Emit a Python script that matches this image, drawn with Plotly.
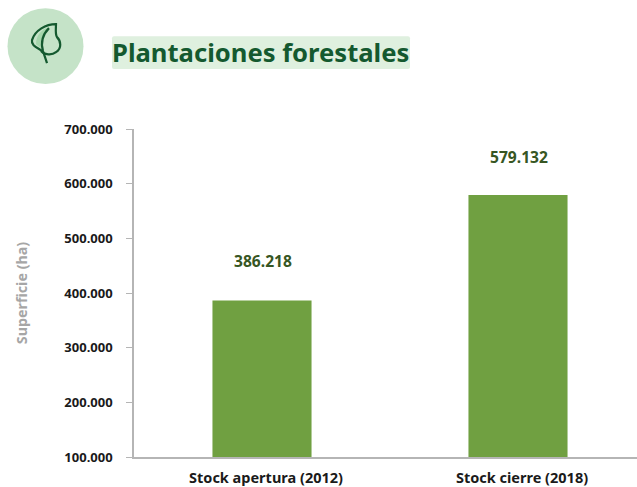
import plotly.graph_objects as go

categories = ["Stock apertura (2012)", "Stock cierre (2018)"]
values = [386218, 579132]
tick_values = [100000, 200000, 300000, 400000, 500000, 600000, 700000]
title = "Plantaciones forestales"
y_title = "Superficie (ha)"

W, H = 637, 487
L, R, T, B = 134, 0, 129, 29.5
FONT = "Noto Sans"


def px(x):
    return (x - L) / (W - L - R)


def py(y):
    return 1 - (y - T) / (H - T - B)


def path(cmds):
    out = []
    for c in cmds:
        if isinstance(c, str):
            out.append(c)
        else:
            out.append(f"{px(c[0]):.5f},{py(c[1]):.5f}")
    return " ".join(out)


fig = go.Figure(go.Bar(
    x=categories, y=values, width=0.387,
    marker=dict(color="#70A041", line=dict(width=0)),
    hoverinfo="skip", showlegend=False,
))

shapes = [
    dict(type="circle", xref="paper", yref="paper", x0=px(7.5), x1=px(83.5), y0=py(84), y1=py(8),
         fillcolor="#C5E3C8", line=dict(width=0), layer="below"),
    dict(type="path", xref="paper", yref="paper", layer="below", fillcolor="#DFF0DF", line=dict(width=0),
         path=path(["M", (114, 36), "L", (408, 36), "Q", (410, 36), (410, 38), "L", (410, 67), "Q", (410, 69), (408, 69),
                    "L", (114, 69), "Q", (112, 69), (112, 67), "L", (112, 38), "Q", (112, 36), (114, 36), "Z"])),
    dict(type="path", xref="paper", yref="paper", fillcolor="#A5D6AC", line=dict(width=0),
         path=path(["M", (49, 27), "C", (41, 29), (36, 36), (36, 44), "L", (41, 48), "C", (40, 40), (43, 33), (49, 27), "Z"])),
    dict(type="path", xref="paper", yref="paper", line=dict(color="#14592F", width=2.2),
         path=path(["M", (56, 24), "C", (46, 24), (35, 30), (32, 40), "C", (31, 45), (36, 47), (41, 50),
                    "C", (42, 54), (51, 56), (56, 52), "C", (62, 48), (61, 41), (57, 37),
                    "C", (55, 34), (56, 29), (56, 24), "Z"])),
    dict(type="path", xref="paper", yref="paper", line=dict(color="#14592F", width=2.2),
         path=path(["M", (49, 28), "C", (42, 35), (41, 44), (43, 51), "L", (47, 63)])),
]

annotations = [
    dict(x=c, y=v, xref="x", yref="y", text=f"{v:,}".replace(",", "."), showarrow=False,
         xshift=1, yshift=s, font=dict(family=FONT, size=15.6, color="#375623", weight="bold"))
    for c, v, s in zip(categories, values, [40, 38])
]
annotations.append(dict(
    x=px(111), y=py(52.5), xref="paper", yref="paper", xanchor="left", yanchor="middle", showarrow=False,
    text=title, font=dict(family=FONT, size=25.6, color="#14592F", weight="bold"), borderpad=0,
))

fig.update_layout(
    width=W, height=H, margin=dict(l=L, r=R, t=T, b=B, pad=0),
    paper_bgcolor="white", plot_bgcolor="white", separators=",.",
    shapes=shapes, annotations=annotations, showlegend=False,
    font=dict(family=FONT, size=13, color="#1A1A1A", weight="bold"),
    xaxis=dict(range=[-0.5, -0.5 + (W - L) / 256], showgrid=False, zeroline=False,
               showline=True, linecolor="#B5B5B5", linewidth=1.5, ticks="", ticklabelstandoff=7, ticklabelshift=4,
               tickfont=dict(family=FONT, size=14.5, color="#1A1A1A", weight="bold"), fixedrange=True,
               categoryorder="array", categoryarray=categories),
    yaxis=dict(range=[100000, 700000], tickvals=tick_values, tickformat=",d", showgrid=False, zeroline=False,
               showline=True, linecolor="#B5B5B5", linewidth=1.5, ticks="outside", ticklen=6,
               tickcolor="#B5B5B5", tickwidth=1.2, fixedrange=True, ticklabelstandoff=11,
               tickfont=dict(family=FONT, size=13, color="#1A1A1A", weight="bold"),
               title=dict(text=y_title, standoff=33,
                          font=dict(family=FONT, size=14.3, color="#A6A6A6", weight="bold"))),
)
fig.write_html("out.html", config=dict(displayModeBar=False),
               post_script="document.body.style.margin='0';document.documentElement.style.overflow='hidden';")
